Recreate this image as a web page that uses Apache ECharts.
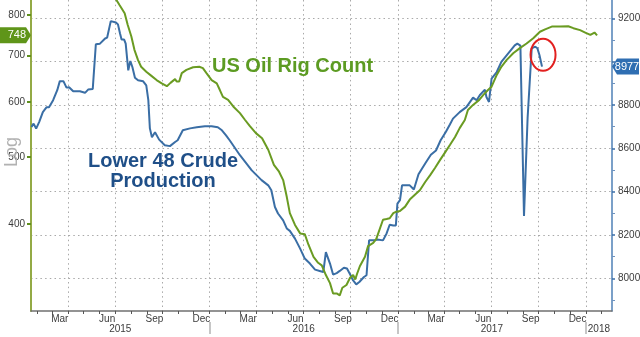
<!DOCTYPE html>
<html>
<head>
<meta charset="utf-8">
<script src="https://cdn.jsdelivr.net/npm/echarts@6/dist/echarts.min.js"></script>
<style>
  html, body { margin: 0; padding: 0; background: #ffffff; }
  #chart { width: 640px; height: 337px; }
</style>
</head>
<body>
<div id="chart"></div>
<script>
// ---- Oil rig count (left, log scale) ----
const rigDates = [
  '2015-06-27','2015-07-04','2015-07-10','2015-07-20','2015-07-26','2015-08-02','2015-08-08','2015-08-15',
  '2015-08-21','2015-08-31','2015-09-10','2015-09-20','2015-09-30','2015-10-10','2015-10-17','2015-10-26',
  '2015-10-29','2015-11-03','2015-11-08','2015-11-17','2015-11-30','2015-12-12','2015-12-19','2015-12-26',
  '2016-01-05','2016-01-15','2016-01-21','2016-01-27','2016-02-06','2016-02-16','2016-02-29','2016-03-10',
  '2016-03-19','2016-03-31','2016-04-12','2016-04-24','2016-05-05','2016-05-15','2016-05-23','2016-05-30',
  '2016-06-05','2016-06-15','2016-06-25','2016-07-04','2016-07-11','2016-07-21','2016-07-30','2016-08-06',
  '2016-08-14','2016-08-22','2016-08-28','2016-09-04','2016-09-10','2016-09-15','2016-09-23','2016-09-30',
  '2016-10-06','2016-10-10','2016-10-14','2016-10-19','2016-10-29','2016-11-04','2016-11-14','2016-11-20',
  '2016-12-03','2016-12-10','2016-12-16','2016-12-23','2016-12-29','2017-01-05','2017-01-15','2017-01-24',
  '2017-02-03','2017-02-13','2017-02-23','2017-03-05','2017-03-14','2017-03-24','2017-04-03','2017-04-12',
  '2017-04-22','2017-05-01','2017-05-11','2017-05-17','2017-05-27','2017-06-08','2017-06-16','2017-06-25',
  '2017-07-02','2017-07-12','2017-07-21','2017-07-31','2017-08-13','2017-08-26','2017-09-08','2017-09-21',
  '2017-10-04','2017-10-14','2017-10-27','2017-11-12','2017-11-28','2017-12-08','2017-12-21','2017-12-31',
  '2018-01-10','2018-01-18','2018-01-23'
];
const rigCount = [
  858, 841, 827, 805, 774, 745, 713, 689,
  674, 663, 654, 645, 638, 632, 639, 647,
  642, 642, 660, 667, 673, 674, 671, 660,
  645, 638, 624, 610, 604, 591, 578, 565,
  554, 541, 532, 512, 487, 476, 463, 438,
  415, 399, 388, 387, 374, 359, 352, 349,
  338, 329, 318, 318, 316, 324, 327, 335,
  338, 333, 340, 348, 359, 372, 376, 381,
  406, 407, 408, 415, 417, 418, 424, 434,
  441, 448, 460, 471, 482, 495, 508, 520,
  534, 550, 565, 584, 594, 604, 614, 624,
  631, 656, 674, 689, 705, 717, 728, 741,
  757, 763, 770, 770, 771, 766, 761, 755,
  749, 755, 748
];

// ---- Lower 48 crude production (right, linear) ----
const prodDates = [
  '2015-01-20','2015-01-24','2015-01-29','2015-02-04','2015-02-11','2015-02-18','2015-02-23','2015-03-03',
  '2015-03-11','2015-03-16','2015-03-23','2015-03-29','2015-04-03','2015-04-11','2015-04-24','2015-05-04',
  '2015-05-10','2015-05-19','2015-05-25','2015-06-02','2015-06-12','2015-06-16','2015-06-23','2015-07-03',
  '2015-07-07','2015-07-11','2015-07-14','2015-07-19','2015-07-22','2015-07-27','2015-07-31','2015-08-04',
  '2015-08-09','2015-08-15','2015-08-25','2015-08-31','2015-09-04','2015-09-07','2015-09-11','2015-09-17',
  '2015-09-25','2015-10-06','2015-10-16','2015-10-26','2015-10-31','2015-11-10','2015-11-24','2015-12-07',
  '2015-12-23','2016-01-05','2016-01-17','2016-01-25','2016-02-02','2016-02-09','2016-02-29','2016-03-23',
  '2016-04-11','2016-04-24','2016-04-30','2016-05-07','2016-05-13','2016-05-23','2016-05-30','2016-06-05',
  '2016-06-15','2016-06-25','2016-07-04','2016-07-14','2016-07-24','2016-08-02','2016-08-09','2016-08-14',
  '2016-08-22','2016-08-28','2016-09-04','2016-09-10','2016-09-18','2016-09-24','2016-10-01','2016-10-06',
  '2016-10-12','2016-10-18','2016-10-27','2016-11-01','2016-11-06','2016-11-17','2016-11-22','2016-12-03',
  '2016-12-10','2016-12-16','2016-12-23','2016-12-28','2016-12-31','2017-01-05','2017-01-09','2017-01-24',
  '2017-02-01','2017-02-10','2017-02-23','2017-03-06','2017-03-16','2017-03-25','2017-04-04','2017-04-12',
  '2017-04-18','2017-05-01','2017-05-14','2017-05-27','2017-06-03','2017-06-09','2017-06-19','2017-06-22',
  '2017-06-27','2017-07-02','2017-07-12','2017-07-21','2017-08-03','2017-08-16','2017-08-21','2017-08-27',
  '2017-09-03','2017-09-10','2017-09-18','2017-09-25','2017-09-29','2017-10-03','2017-10-08'
];
const prodValues = [
  8698, 8714, 8691, 8722, 8767, 8789, 8789, 8822,
  8868, 8910, 8910, 8880, 8882, 8863, 8863, 8856,
  8871, 8874, 9080, 9083, 9107, 9111, 9187, 9181,
  9172, 9130, 9102, 9102, 9083, 8960, 9003, 8975,
  8926, 8914, 8909, 8890, 8822, 8692, 8651, 8674,
  8640, 8614, 8610, 8629, 8637, 8683, 8692, 8697,
  8702, 8702, 8697, 8683, 8660, 8637, 8568, 8498,
  8453, 8429, 8406, 8329, 8299, 8267, 8230, 8219,
  8183, 8137, 8091, 8068, 8040, 8034, 8029, 8121,
  8068, 8017, 8024, 8034, 8049, 8045, 8014, 7990,
  7972, 7983, 8006, 8014, 8175, 8175, 8179, 8175,
  8207, 8247, 8244, 8244, 8345, 8361, 8429, 8429,
  8410, 8480, 8530, 8570, 8590, 8637, 8675, 8710,
  8737, 8767, 8790, 8834, 8822, 8845, 8871, 8837,
  8814, 8922, 8952, 8999, 9037, 9075, 9083, 9074,
  8288, 8740, 9062, 9069, 9062, 9031, 8977
];

// ---- Axis ticks and labels ----
const rigTicks = [400, 500, 600, 700, 800];
const prodTicks = [8000, 8200, 8400, 8600, 8800, 9000, 9200];
const prodLabels = [8000, 8200, 8400, 8600, 8800, 9200];
const prodMinorTicks = [7900, 8100, 8300, 8500, 8700, 8900, 9100];
const monthNames = ['Jan','Feb','Mar','Apr','May','Jun','Jul','Aug','Sep','Oct','Nov','Dec'];
const labelledMonths = [2, 5, 8, 11];
const years = [2015, 2016, 2017, 2018];
const xFrom = '2015-01-19';
const xTo = '2018-02-21';

const ts = s => new Date(s + 'T00:00:00Z').getTime();
const xMin = ts(xFrom), xMax = ts(xTo);

const monthStarts = [], quarterStarts = [], monthMids = [];
for (let y = 2015; y <= 2018; y++) {
  for (let m = 0; m < 12; m++) {
    const start = Date.UTC(y, m, 1);
    if (start > xMin && start < xMax) {
      monthStarts.push(start);
      if (m % 3 === 0) quarterStarts.push(start);
    }
    const mid = Date.UTC(y, m, 16);
    if (labelledMonths.indexOf(m) >= 0 && mid > xMin && mid < xMax) monthMids.push(mid);
  }
}
const yearStarts = years.map(y => Date.UTC(y, 0, 1)).filter(v => v > xMin && v < xMax);
const yearMids = years.map(y => {
  const a = Math.max(Date.UTC(y, 0, 1), xMin);
  const b = Math.min(Date.UTC(y + 1, 0, 1), xMax);
  return (a + b) / 2;
});

const rigData = rigDates.map((d, i) => [ts(d), rigCount[i]]);
const prodData = prodDates.map((d, i) => [ts(d), prodValues[i]]);

const labelFont = '"Liberation Sans Narrow", "Liberation Sans", Arial, sans-serif';
const boldFont = '"Liberation Sans", Arial, sans-serif';
const gridDots = { color: '#a9a9a9', width: 1, type: [1.5, 3.2] };

const chart = echarts.init(document.getElementById('chart'));

chart.setOption({
  animation: false,
  backgroundColor: '#ffffff',
  grid: { left: 31, right: 28, top: 0, bottom: 26, containLabel: false, outerBoundsMode: 'none' },
  xAxis: [
    {
      type: 'value', min: xMin, max: xMax, position: 'bottom',
      axisLine: { onZero: false, lineStyle: { color: '#707070', width: 1.5 } },
      axisTick: { show: true, customValues: monthStarts, length: 3, lineStyle: { color: '#555555', width: 1 } },
      axisLabel: {
        customValues: monthMids, margin: 3, color: '#3c3c3c', fontSize: 10, fontFamily: labelFont,
        formatter: v => monthNames[new Date(v).getUTCMonth()]
      },
      splitLine: { show: false }
    },
    {
      type: 'value', min: xMin, max: xMax, position: 'bottom', offset: 11,
      axisLine: { show: false, onZero: false },
      axisTick: { show: true, customValues: yearStarts, length: 12, lineStyle: { color: '#b4b4b4', width: 1.5 } },
      axisLabel: {
        customValues: yearMids, margin: 2, color: '#3c3c3c', fontSize: 10, fontFamily: labelFont,
        formatter: v => String(new Date(v).getUTCFullYear())
      },
      splitLine: { show: false }
    },
    {
      type: 'value', min: xMin, max: xMax, position: 'bottom',
      axisLine: { show: false, onZero: false },
      axisTick: { show: false, customValues: quarterStarts },
      axisLabel: { show: false },
      splitLine: { show: true, lineStyle: gridDots }
    }
  ],
  yAxis: [
    {
      type: 'log', logBase: 10, min: 300, max: 841, position: 'left',
      axisLine: { show: true, lineStyle: { color: '#93aa45', width: 2 } },
      axisTick: { show: true, customValues: rigTicks, length: 4, lineStyle: { color: '#5f901f', width: 2 } },
      axisLabel: {
        customValues: rigTicks, margin: 6, color: '#3c3c3c', fontSize: 10, fontFamily: labelFont,
        formatter: v => String(Math.round(v))
      },
      splitLine: { show: false }
    },
    {
      type: 'value', min: 7849, max: 9284.5, position: 'right',
      axisLine: { show: true, lineStyle: { color: '#4f80b6', width: 1.5 } },
      axisTick: { show: true, customValues: prodTicks, length: 3, lineStyle: { color: '#3b6ea7', width: 1.5 } },
      axisLabel: {
        customValues: prodLabels, margin: 6, color: '#3c3c3c', fontSize: 10, fontFamily: labelFont,
        formatter: v => String(v)
      },
      splitLine: { show: true, lineStyle: gridDots }
    },
    {
      type: 'value', min: 7849, max: 9284.5, position: 'right',
      axisLine: { show: false },
      axisTick: { show: true, customValues: prodMinorTicks, length: 3, lineStyle: { color: '#6e93bf', width: 1 } },
      axisLabel: { show: false },
      splitLine: { show: false }
    }
  ],
  series: [
    {
      name: 'Lower 48 Crude Production', type: 'line', xAxisIndex: 0, yAxisIndex: 1,
      data: prodData, showSymbol: false, clip: true,
      lineStyle: { color: '#3a6ea5', width: 2 }, itemStyle: { color: '#3a6ea5' }, z: 3
    },
    {
      name: 'US Oil Rig Count', type: 'line', xAxisIndex: 0, yAxisIndex: 0,
      data: rigData, showSymbol: false, clip: true,
      lineStyle: { color: '#6a9b22', width: 2 }, itemStyle: { color: '#6a9b22' }, z: 4
    }
  ]
});

// Last-value tags, the circled reading and the series titles
const lastRig = rigCount[rigCount.length - 1];
const lastProd = prodValues[prodValues.length - 1];
const rigY = chart.convertToPixel({ yAxisIndex: 0 }, lastRig);
const prodY = chart.convertToPixel({ yAxisIndex: 1 }, lastProd);
const ring = chart.convertToPixel({ seriesIndex: 0 }, [ts('2017-10-10'), 9032]);

chart.setOption({
  graphic: [
    {
      type: 'polygon', z: 20,
      shape: { points: [[0, rigY - 8], [26, rigY - 8], [31, rigY], [26, rigY + 8], [0, rigY + 8]] },
      style: { fill: '#5f9519' }
    },
    {
      type: 'text', z: 21, x: 26, y: rigY,
      style: { text: String(lastRig), fill: '#ffffff', font: '11px ' + labelFont, align: 'right', verticalAlign: 'middle' }
    },
    {
      type: 'polygon', z: 20,
      shape: { points: [[612, prodY], [617, prodY - 8], [639, prodY - 8], [639, prodY + 8], [617, prodY + 8]] },
      style: { fill: '#2f6eb2' }
    },
    {
      type: 'text', z: 21, x: 627, y: prodY,
      style: { text: String(lastProd), fill: '#ffffff', font: '11px ' + labelFont, align: 'center', verticalAlign: 'middle' }
    },
    {
      type: 'ellipse', z: 22,
      shape: { cx: ring[0], cy: ring[1], rx: 12.5, ry: 16 },
      style: { fill: 'none', stroke: '#e2201f', lineWidth: 2 }
    },
    {
      type: 'text', z: 10, x: 212, y: 66,
      style: { text: 'US Oil Rig Count', fill: '#5c9b22', font: 'bold 20px ' + boldFont, align: 'left', verticalAlign: 'middle' }
    },
    {
      type: 'text', z: 10, x: 163, y: 161,
      style: { text: 'Lower 48 Crude', fill: '#1f4f88', font: 'bold 20px ' + boldFont, align: 'center', verticalAlign: 'middle' }
    },
    {
      type: 'text', z: 10, x: 163, y: 181,
      style: { text: 'Production', fill: '#1f4f88', font: 'bold 20px ' + boldFont, align: 'center', verticalAlign: 'middle' }
    },
    {
      type: 'text', z: 10, x: 12, y: 152, rotation: Math.PI / 2,
      style: { text: 'Log', fill: '#b2b2b2', font: '18px ' + labelFont, align: 'center', verticalAlign: 'middle' }
    }
  ]
});
</script>
</body>
</html>
